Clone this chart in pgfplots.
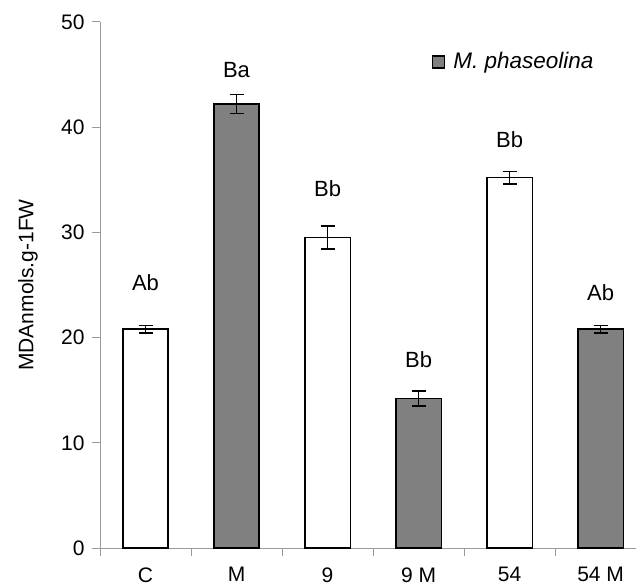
\documentclass[border=0pt]{standalone}
\usepackage{pgfplots}
\pgfplotsset{compat=1.18}
\usepackage{fontspec}
\setmainfont{Liberation Sans}
\definecolor{axgray}{HTML}{9A9A9A}
\definecolor{bargray}{HTML}{808080}
\begin{document}
\fontsize{22bp}{26bp}\selectfont
\begin{tikzpicture}[x=1bp,y=1bp]
\useasboundingbox (-100,-38) rectangle (536,548);
\begin{axis}[at={(0,0)}, anchor=south west, scale only axis,
  width=537bp, height=526bp,
  xmin=-0.5, xmax=5.4, ymin=0, ymax=50,
  axis lines=left,
  axis line style={-, draw=axgray, line width=1pt},
  ytick={0,10,...,50},
  xtick={0,...,5}, xticklabels={C,M,9,9 M,54,54 M},
  minor xtick={-0.5,0.5,...,4.5},
  major x tick style={draw=none},
  tick style={draw=axgray, line width=1pt},
  tick align=outside,
  major tick length=8bp, minor tick length=8bp,
  /pgf/number format/assume math mode=true,
  ticklabel style={font=\fontsize{21bp}{25bp}\selectfont},
  xticklabel style={yshift=-4bp},
  ylabel={MDAnmols.g-1FW},
  ylabel style={at={(rel axis cs:0,0.5)}, anchor=center, yshift=72bp, font=\fontsize{21bp}{25bp}\selectfont},
  legend style={draw=none, fill=none, at={(rel axis cs:0.612,0.924)}, anchor=west,
    font=\fontsize{22.5bp}{26bp}\selectfont\itshape, legend cell align=left},
  legend image code/.code={\draw[#1, line width=1.6bp] (0bp,-6bp) rectangle (12bp,6bp);},
  clip=false,
]
\addplot[ybar, bar width=0.5, bar shift=0pt, fill=white, draw=black, line width=1.6bp,
  forget plot,
  error bars/.cd, y dir=both, y explicit,
  error bar style={line width=1.5bp, black},
  error mark options={rotate=90, mark size=7bp, line width=1.5bp, black}]
  coordinates {(0,20.8) +- (0,0.35) (2,29.5) +- (0,1.1) (4,35.2) +- (0,0.6)};
\addplot[ybar, bar width=0.5, bar shift=0pt, fill=bargray, draw=black, line width=1.6bp,
  error bars/.cd, y dir=both, y explicit,
  error bar style={line width=1.5bp, black},
  error mark options={rotate=90, mark size=7bp, line width=1.5bp, black}]
  coordinates {(1,42.2) +- (0,0.9) (3,14.2) +- (0,0.7) (5,20.8) +- (0,0.35)};
\addlegendentry{\hspace{6bp}M. phaseolina}
\node at (axis cs:0,25.2) {Ab};
\node at (axis cs:1,45.4) {Ba};
\node at (axis cs:2,34.2) {Bb};
\node at (axis cs:3,17.9) {Bb};
\node at (axis cs:4,38.8) {Bb};
\node at (axis cs:5,24.3) {Ab};
\end{axis}
\end{tikzpicture}
\end{document}
